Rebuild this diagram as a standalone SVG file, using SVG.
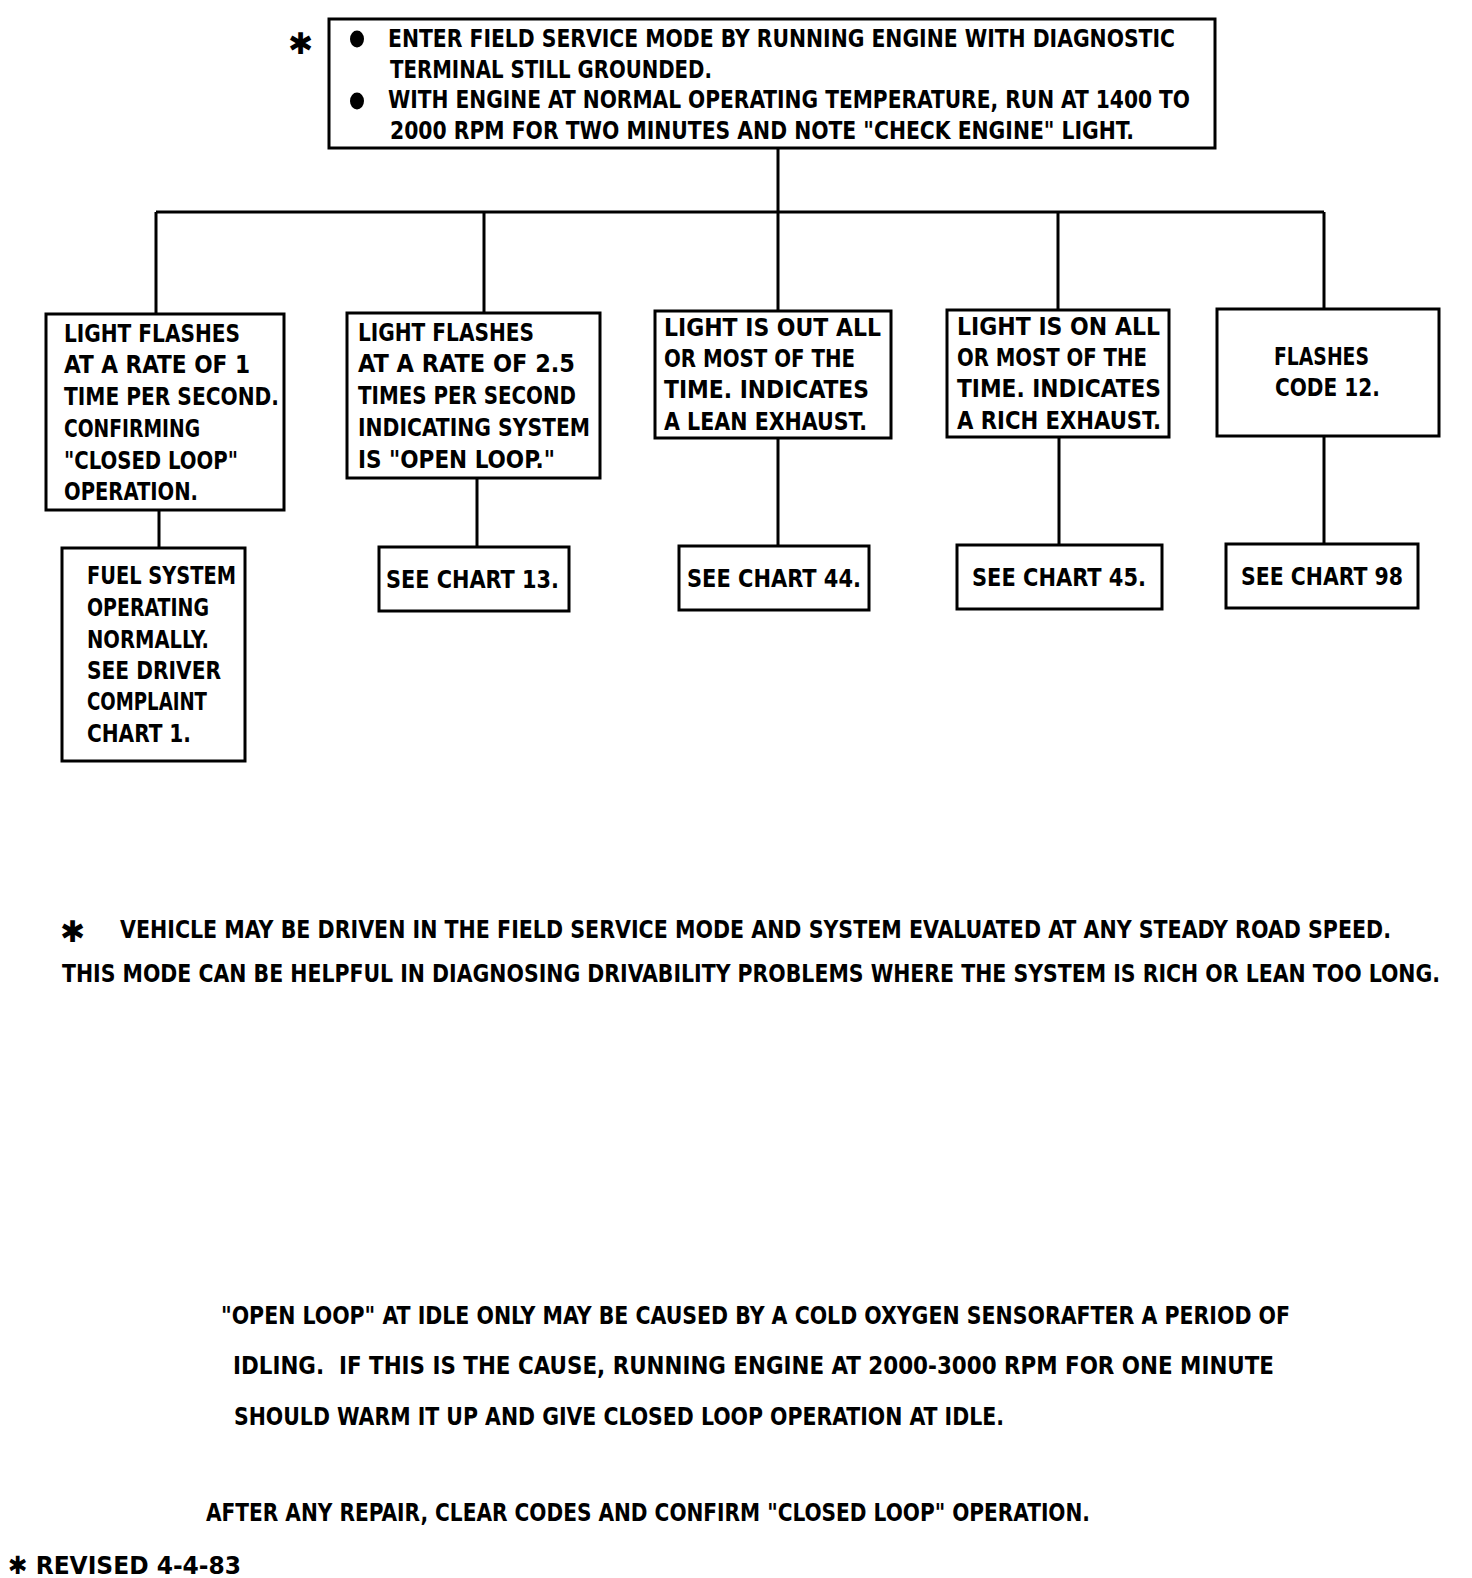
<svg xmlns="http://www.w3.org/2000/svg" width="1472" height="1578" viewBox="0 0 1472 1578">
<style>
.box{fill:#fff;stroke:#000;stroke-width:3}
.ln{fill:none;stroke:#000;stroke-width:3}
text{font-family:"DejaVu Sans Condensed","DejaVu Sans",sans-serif;font-weight:bold;font-size:25px;fill:#000}
.star{font-family:"DejaVu Sans",sans-serif;font-size:30px}
</style>
<rect width="1472" height="1578" fill="#fff"/>
<g id="connectors">
<path class="ln" d="M778 148V212M156 212H1324M156 212V314M484 212V313M778 212V311M1058 212V310M1324 212V309"/>
<path class="ln" d="M159 510V548M477 478V547M778 438V546M1059 437V545M1324 436V544"/>
</g>
<g id="top">
<text class="star" x="288" y="54">✱</text>
<rect class="box" x="329" y="19" width="886" height="129"/>
<ellipse cx="357" cy="39" rx="7" ry="8.5"/>
<ellipse cx="357" cy="101" rx="7" ry="8.5"/>
<text x="388" y="47" textLength="787" lengthAdjust="spacingAndGlyphs">ENTER FIELD SERVICE MODE BY RUNNING ENGINE WITH DIAGNOSTIC</text>
<text x="390" y="78" textLength="322" lengthAdjust="spacingAndGlyphs">TERMINAL STILL GROUNDED.</text>
<text x="388" y="108" textLength="802" lengthAdjust="spacingAndGlyphs">WITH ENGINE AT NORMAL OPERATING TEMPERATURE, RUN AT 1400 TO</text>
<text x="390" y="139" textLength="744" lengthAdjust="spacingAndGlyphs">2000 RPM FOR TWO MINUTES AND NOTE "CHECK ENGINE" LIGHT.</text>
</g>
<g id="b1">
<rect class="box" x="46" y="314" width="238" height="196"/>
<text x="64" y="342" textLength="176" lengthAdjust="spacingAndGlyphs">LIGHT FLASHES</text>
<text x="64" y="373" textLength="186" lengthAdjust="spacingAndGlyphs">AT A RATE OF 1</text>
<text x="64" y="405" textLength="215" lengthAdjust="spacingAndGlyphs">TIME PER SECOND.</text>
<text x="64" y="437" textLength="136" lengthAdjust="spacingAndGlyphs">CONFIRMING</text>
<text x="64" y="469" textLength="174" lengthAdjust="spacingAndGlyphs">"CLOSED LOOP"</text>
<text x="64" y="500" textLength="134" lengthAdjust="spacingAndGlyphs">OPERATION.</text>
</g>
<g id="b2">
<rect class="box" x="347" y="313" width="253" height="165"/>
<text x="358" y="341" textLength="176" lengthAdjust="spacingAndGlyphs">LIGHT FLASHES</text>
<text x="358" y="372" textLength="217" lengthAdjust="spacingAndGlyphs">AT A RATE OF 2.5</text>
<text x="358" y="404" textLength="218" lengthAdjust="spacingAndGlyphs">TIMES PER SECOND</text>
<text x="358" y="436" textLength="232" lengthAdjust="spacingAndGlyphs">INDICATING SYSTEM</text>
<text x="358" y="468" textLength="197" lengthAdjust="spacingAndGlyphs">IS "OPEN LOOP."</text>
</g>
<g id="b3">
<rect class="box" x="655" y="311" width="236" height="127"/>
<text x="664" y="336" textLength="217" lengthAdjust="spacingAndGlyphs">LIGHT IS OUT ALL</text>
<text x="664" y="367" textLength="191" lengthAdjust="spacingAndGlyphs">OR MOST OF THE</text>
<text x="664" y="398" textLength="205" lengthAdjust="spacingAndGlyphs">TIME. INDICATES</text>
<text x="664" y="430" textLength="203" lengthAdjust="spacingAndGlyphs">A LEAN EXHAUST.</text>
</g>
<g id="b4">
<rect class="box" x="947" y="310" width="222" height="127"/>
<text x="957" y="335" textLength="203" lengthAdjust="spacingAndGlyphs">LIGHT IS ON ALL</text>
<text x="957" y="366" textLength="190" lengthAdjust="spacingAndGlyphs">OR MOST OF THE</text>
<text x="957" y="397" textLength="204" lengthAdjust="spacingAndGlyphs">TIME. INDICATES</text>
<text x="957" y="429" textLength="204" lengthAdjust="spacingAndGlyphs">A RICH EXHAUST.</text>
</g>
<g id="b5">
<rect class="box" x="1217" y="309" width="222" height="127"/>
<text x="1274" y="365" textLength="95" lengthAdjust="spacingAndGlyphs">FLASHES</text>
<text x="1275" y="396" textLength="105" lengthAdjust="spacingAndGlyphs">CODE 12.</text>
</g>
<g id="c1">
<rect class="box" x="62" y="548" width="183" height="213"/>
<text x="87" y="584" textLength="149" lengthAdjust="spacingAndGlyphs">FUEL SYSTEM</text>
<text x="87" y="616" textLength="122" lengthAdjust="spacingAndGlyphs">OPERATING</text>
<text x="87" y="648" textLength="122" lengthAdjust="spacingAndGlyphs">NORMALLY.</text>
<text x="87" y="679" textLength="134" lengthAdjust="spacingAndGlyphs">SEE DRIVER</text>
<text x="87" y="710" textLength="120" lengthAdjust="spacingAndGlyphs">COMPLAINT</text>
<text x="87" y="742" textLength="104" lengthAdjust="spacingAndGlyphs">CHART 1.</text>
</g>
<g id="c2">
<rect class="box" x="379" y="547" width="190" height="64"/>
<text x="386" y="588" textLength="173" lengthAdjust="spacingAndGlyphs">SEE CHART 13.</text>
</g>
<g id="c3">
<rect class="box" x="679" y="546" width="190" height="64"/>
<text x="687" y="587" textLength="174" lengthAdjust="spacingAndGlyphs">SEE CHART 44.</text>
</g>
<g id="c4">
<rect class="box" x="957" y="545" width="205" height="64"/>
<text x="972" y="586" textLength="174" lengthAdjust="spacingAndGlyphs">SEE CHART 45.</text>
</g>
<g id="c5">
<rect class="box" x="1226" y="544" width="192" height="64"/>
<text x="1241" y="585" textLength="162" lengthAdjust="spacingAndGlyphs">SEE CHART 98</text>
</g>
<g id="notes">
<text class="star" x="60" y="942">✱</text>
<text x="120" y="938" textLength="1271" lengthAdjust="spacingAndGlyphs">VEHICLE MAY BE DRIVEN IN THE FIELD SERVICE MODE AND SYSTEM EVALUATED AT ANY STEADY ROAD SPEED.</text>
<text x="62" y="982" textLength="1378" lengthAdjust="spacingAndGlyphs">THIS MODE CAN BE HELPFUL IN DIAGNOSING DRIVABILITY PROBLEMS WHERE THE SYSTEM IS RICH OR LEAN TOO LONG.</text>
<text x="221" y="1324" textLength="1069" lengthAdjust="spacingAndGlyphs">"OPEN LOOP" AT IDLE ONLY MAY BE CAUSED BY A COLD OXYGEN SENSORAFTER A PERIOD OF</text>
<text x="233" y="1374" textLength="1041" lengthAdjust="spacingAndGlyphs">IDLING.&#160; IF THIS IS THE CAUSE, RUNNING ENGINE AT 2000-3000 RPM FOR ONE MINUTE</text>
<text x="234" y="1425" textLength="770" lengthAdjust="spacingAndGlyphs">SHOULD WARM IT UP AND GIVE CLOSED LOOP OPERATION AT IDLE.</text>
<text x="206" y="1521" textLength="884" lengthAdjust="spacingAndGlyphs">AFTER ANY REPAIR, CLEAR CODES AND CONFIRM "CLOSED LOOP" OPERATION.</text>
<text x="8" y="1574" textLength="233" lengthAdjust="spacingAndGlyphs">✱ REVISED 4-4-83</text>
</g>
</svg>
